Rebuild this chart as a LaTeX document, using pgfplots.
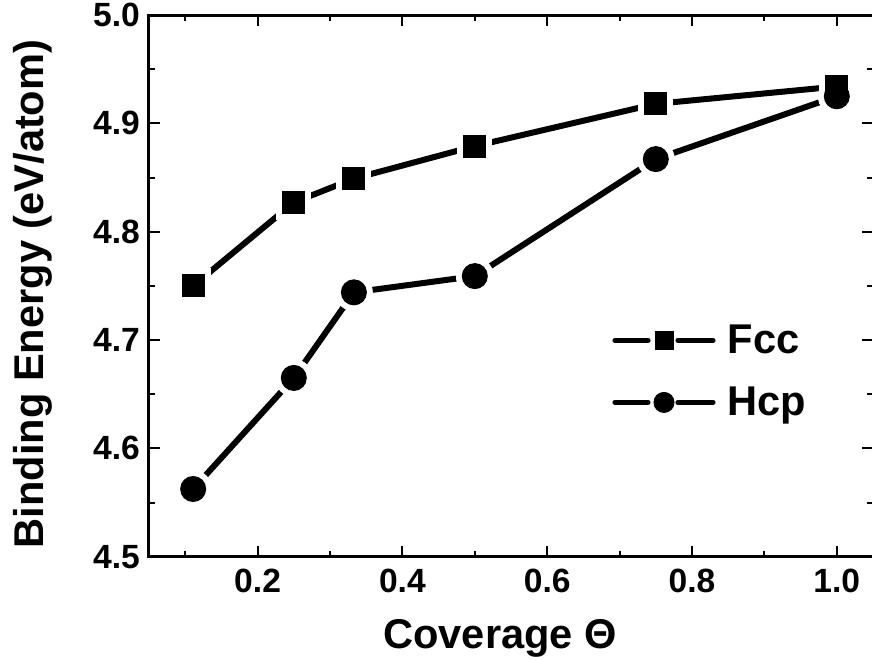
\documentclass[border=0pt]{standalone}
\usepackage{fontspec}
\setmainfont{Liberation Sans}
\usepackage{pgfplots}
\usepackage{pgfplotstable}
\pgfplotsset{compat=1.18}

\pgfplotstableread{
x y
0.111 4.750
0.25 4.827
0.333 4.849
0.5 4.879
0.75 4.918
1.0 4.934
}\fcc
\pgfplotstableread{
x y
0.111 4.5625
0.25 4.665
0.333 4.744
0.5 4.759
0.75 4.867
1.0 4.925
}\hcp

\begin{document}
\begin{tikzpicture}
\begin{axis}[
 scale only axis, width=362pt, height=270.85pt,
 xmin=0.05, xmax=1.05, ymin=4.5, ymax=5.0,
 xtick={0.2,0.4,0.6,0.8,1.0}, minor xtick={0.1,0.3,0.5,0.7,0.9},
 ytick={4.5,4.6,4.7,4.8,4.9,5.0}, minor ytick={4.55,4.65,4.75,4.85,4.95},
 xtick pos=both, ytick pos=both, xticklabel pos=lower, yticklabel pos=left,
 tick align=inside, major tick length=5.5pt, minor tick length=3pt,
 every tick/.style={black, line width=1pt},
 axis line style={line width=1.5pt},
 /pgf/number format/assume math mode=true,
 xticklabel style={/pgf/number format/fixed, /pgf/number format/fixed zerofill, /pgf/number format/precision=1, yshift=-2.5pt},
 yticklabel style={/pgf/number format/fixed, /pgf/number format/fixed zerofill, /pgf/number format/precision=1, xshift=-1pt},
 tick label style={font=\fontsize{16.8}{20}\selectfont\bfseries},
 label style={font=\fontsize{20.8}{25}\selectfont\bfseries},
 xlabel={Coverage Θ},
 ylabel={Binding Energy (eV/atom)},
 xlabel style={at={(axis description cs:0.485,-0.1687)}, anchor=base},
 ylabel style={at={(axis description cs:-0.1464,0.485)}, anchor=base},
 legend cell align=left,
 legend style={draw=none, fill=none, at={(axis description cs:0.6395,0.4314)}, anchor=north west,
   inner sep=0pt, row sep=16pt, column sep=6pt,
   font=\fontsize{20.8}{25}\selectfont\bfseries,
   nodes={inner sep=0pt, text height=15pt, text depth=0pt}},
]
\addplot[black, line width=3pt, line cap=round, mark=none,
  legend image code/.code={
   \draw[line width=2.6pt, black] (0pt,-1pt) -- (16.5pt,-1pt) (31.5pt,-1pt) -- (49pt,-1pt);
   \draw[black, only marks, mark=square*, mark size=4.5pt, mark options={line width=0.5pt}] plot coordinates {(24.5pt,-1pt)};
  }] table[x=x,y=y]{\fcc};
\addlegendentry{Fcc}
\addplot[black, line width=3pt, line cap=round, mark=none,
  legend image code/.code={
   \draw[line width=2.6pt, black] (0pt,-1pt) -- (16.5pt,-1pt) (31.5pt,-1pt) -- (49pt,-1pt);
   \draw[black, only marks, mark=*, mark size=5pt, mark options={line width=0.5pt}] plot coordinates {(24.5pt,-1pt)};
  }] table[x=x,y=y]{\hcp};
\addlegendentry{Hcp}
\addplot[forget plot, only marks, mark=square*, mark size=8.5pt, white, mark options={draw=white, fill=white}] table[x=x,y=y]{\fcc};
\addplot[forget plot, only marks, mark=*, mark size=9.25pt, white, mark options={draw=white, fill=white}] table[x=x,y=y]{\hcp};
\addplot[forget plot, only marks, mark=square*, mark size=5.5pt, black, mark options={line width=0.5pt}] table[x=x,y=y]{\fcc};
\addplot[forget plot, only marks, mark=*, mark size=6.25pt, black, mark options={line width=0.5pt}] table[x=x,y=y]{\hcp};
\coordinate (bl) at (rel axis cs:0,0);
\end{axis}
\pgfresetboundingbox
\path[use as bounding box] ([shift={(-74.5pt,-51.15pt)}]bl) rectangle ++(436pt,329.5pt);
\end{tikzpicture}
\end{document}
